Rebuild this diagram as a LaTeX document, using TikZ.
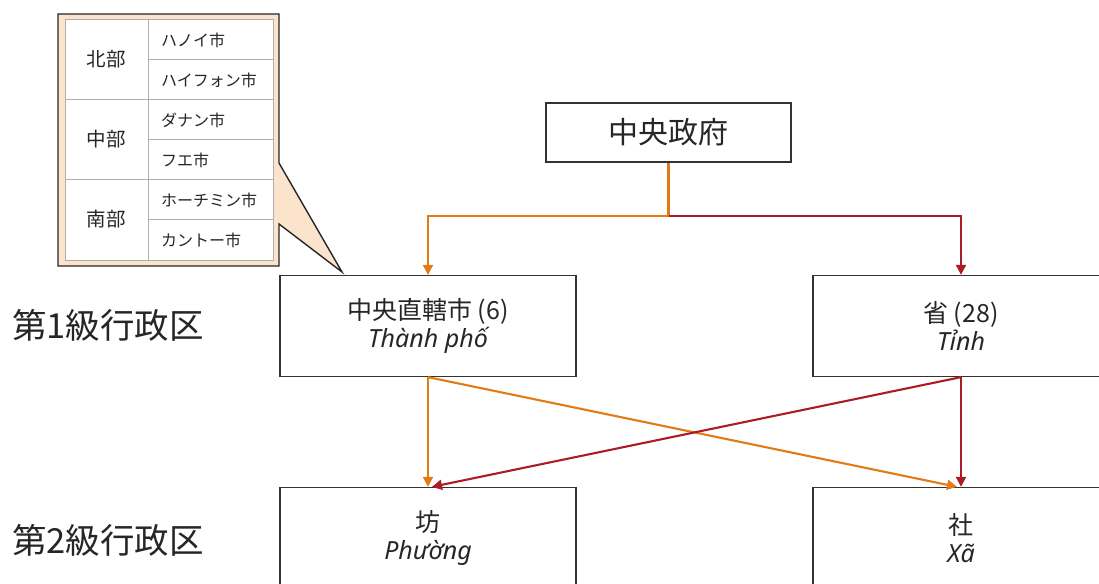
\documentclass[tikz,border=0pt]{standalone}
\usepackage{fontspec}
\setmainfont{Noto Sans CJK JP}
\newfontfamily\vifont{Noto Sans}
\usetikzlibrary{arrows.meta}
\definecolor{orng}{RGB}{226,122,22}
\definecolor{dred}{RGB}{172,28,38}
\definecolor{peach}{RGB}{252,228,204}
\definecolor{txt}{RGB}{38,38,38}
\definecolor{gridc}{RGB}{175,175,175}
\begin{document}
\begin{tikzpicture}[x=1pt,y=-1pt,
  box/.style={draw=black!80,line width=1.3pt,fill=white,minimum width=296pt,minimum height=101pt,inner sep=0pt,align=center,text=txt,font=\fontsize{25}{28.5}\selectfont},
  conn/.style={line width=2.1pt,-{Triangle[width=10pt,length=10pt]}},
  tcell/.style={text=txt,font=\fontsize{16}{18}\selectfont,inner sep=0pt},
  gcell/.style={text=txt,font=\fontsize{19.5}{21}\selectfont,inner sep=0pt},
  level/.style={text=txt,font=\fontsize{34.5}{36}\selectfont,anchor=west,inner sep=0pt},
  gridline/.style={draw=gridc,line width=0.8pt}]
\useasboundingbox (0,0) rectangle (1099,583);

% boxes
\node[box,minimum width=245pt,minimum height=59pt,font=\fontsize{30}{32}\selectfont] (gov) at (668.5,132.5) {中央政府};
\node[box] (city) at (428,326) {中央直轄市 (6)\\{\vifont\itshape Thành phố}};
\node[box] (prov) at (961,326) {省 (28)\\{\vifont\itshape Tỉnh}};
\node[box] (ward) at (428,538) {坊\\{\vifont\itshape Phường}};
\node[box] (comm) at (961,538) {社\\{\vifont\itshape Xã}};

% level labels
\node[level] (lv1) at (12,325) {第1級行政区};
\node[level] (lv2) at (12,540) {第2級行政区};

% connectors
\coordinate (j) at (668.5,216);
\draw[conn,orng] (gov.south) -- (j) -| (city.north);
\draw[conn,dred] (j) -| (prov.north);
\draw[conn,orng] (city.south) -- (ward.north);
\draw[conn,orng] (city.south) -- ([xshift=-4pt]comm.north);
\draw[conn,dred] (prov.south) -- (comm.north);
\draw[conn,dred] (prov.south) -- ([xshift=4pt]ward.north);

% callout
\coordinate (tip) at (342,272);
\draw[fill=peach,draw=black!85,line width=1.4pt,line join=miter]
  (58,14) -- (279,14) -- (279,163) -- (tip) -- (279,224) -- (279,266) -- (58,266) -- cycle;
\fill[white] (65,19) rectangle (273,260);
\draw[gridline] (65,19) rectangle (273,260);
\draw[gridline] (148,19) -- (148,260);
\draw[gridline] (65,99) -- (273,99);
\draw[gridline] (65,179) -- (273,179);
\draw[gridline] (148,59) -- (273,59);
\draw[gridline] (148,139) -- (273,139);
\draw[gridline] (148,219) -- (273,219);

\node[gcell] (g1) at (106,59) {北部};
\node[gcell] (g2) at (106,139) {中部};
\node[gcell] (g3) at (106,219) {南部};
\node[tcell,anchor=west] (c1) at (161,40) {ハノイ市};
\node[tcell,anchor=west] (c2) at (161,80) {ハイフォン市};
\node[tcell,anchor=west] (c3) at (161,120) {ダナン市};
\node[tcell,anchor=west] (c4) at (161,160) {フエ市};
\node[tcell,anchor=west] (c5) at (161,200) {ホーチミン市};
\node[tcell,anchor=west] (c6) at (161,240) {カントー市};
\end{tikzpicture}
\end{document}
